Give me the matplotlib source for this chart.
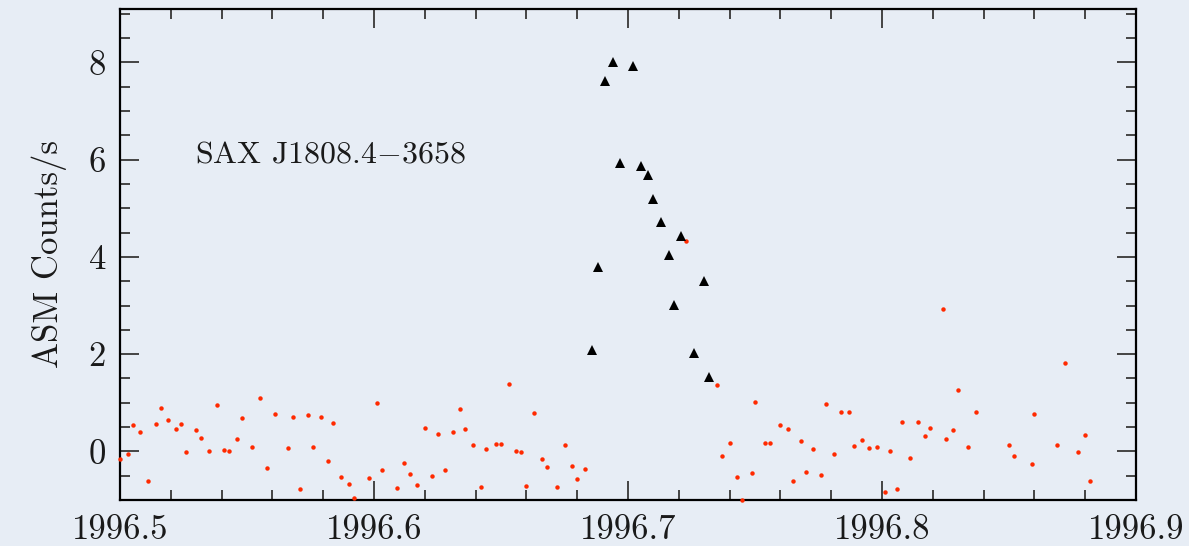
import matplotlib
matplotlib.use("Agg")
import matplotlib.pyplot as plt
from matplotlib.ticker import MultipleLocator

# ASM light curve, quiet points (red dots)
t_asm = [1996.500, 1996.503, 1996.505, 1996.508, 1996.511, 1996.514, 1996.516, 1996.519,
         1996.522, 1996.524, 1996.526, 1996.530, 1996.532, 1996.535, 1996.538, 1996.541,
         1996.543, 1996.546, 1996.548, 1996.552, 1996.555, 1996.558, 1996.561, 1996.566,
         1996.568, 1996.571, 1996.574, 1996.576, 1996.579, 1996.582, 1996.584, 1996.587,
         1996.590, 1996.592, 1996.598, 1996.601, 1996.603, 1996.609, 1996.612, 1996.614,
         1996.617, 1996.620, 1996.623, 1996.625, 1996.628, 1996.631, 1996.634, 1996.636,
         1996.639, 1996.642, 1996.644, 1996.648, 1996.650, 1996.653, 1996.656, 1996.658,
         1996.660, 1996.663, 1996.666, 1996.668, 1996.672, 1996.675, 1996.678, 1996.680,
         1996.683, 1996.723, 1996.735, 1996.737, 1996.740, 1996.743, 1996.745, 1996.749,
         1996.750, 1996.754, 1996.756, 1996.760, 1996.763, 1996.765, 1996.768, 1996.770,
         1996.773, 1996.776, 1996.778, 1996.781, 1996.784, 1996.787, 1996.789, 1996.792,
         1996.795, 1996.798, 1996.801, 1996.803, 1996.806, 1996.808, 1996.811, 1996.814,
         1996.817, 1996.819, 1996.824, 1996.825, 1996.828, 1996.830, 1996.834, 1996.837,
         1996.850, 1996.852, 1996.859, 1996.860, 1996.869, 1996.872, 1996.877, 1996.880,
         1996.882]
r_asm = [-0.15, -0.06, 0.55, 0.40, -0.60, 0.57, 0.90, 0.64,
         0.47, 0.57, -0.01, 0.45, 0.27, 0.01, 0.96, 0.03,
         0.01, 0.26, 0.68, 0.10, 1.10, -0.35, 0.77, 0.07,
         0.70, -0.77, 0.74, 0.10, 0.70, -0.19, 0.59, -0.53,
         -0.68, -0.96, -0.55, 1.00, -0.38, -0.75, -0.24, -0.46,
         -0.70, 0.48, -0.51, 0.36, -0.39, 0.40, 0.88, 0.47,
         0.14, -0.73, 0.05, 0.16, 0.16, 1.39, 0.01, -0.02,
         -0.71, 0.78, -0.15, -0.33, -0.74, 0.13, -0.31, -0.57,
         -0.36, 4.32, 1.36, -0.10, 0.18, -0.53, -1.00, -0.44,
         1.01, 0.18, 0.18, 0.54, 0.47, -0.61, 0.22, -0.42,
         0.04, -0.49, 0.98, -0.06, 0.81, 0.82, 0.12, 0.23,
         0.06, 0.08, -0.84, 0.01, -0.78, 0.61, -0.14, 0.61,
         0.31, 0.49, 2.93, 0.26, 0.45, 1.27, 0.09, 0.80,
         0.14, -0.10, -0.25, 0.77, 0.14, 1.81, -0.01, 0.34,
         -0.61]

# outburst points (black triangles)
t_burst = [1996.686, 1996.688, 1996.691, 1996.694, 1996.697, 1996.702, 1996.705, 1996.708,
           1996.710, 1996.713, 1996.716, 1996.718, 1996.721, 1996.726, 1996.730, 1996.732]
r_burst = [2.09, 3.80, 7.62, 8.02, 5.94, 7.93, 5.87, 5.69,
           5.20, 4.72, 4.03, 3.01, 4.43, 2.03, 3.51, 1.53]

xticks = [1996.5, 1996.6, 1996.7, 1996.8, 1996.9]
xtick_labels = ["1996.5", "1996.6", "1996.7", "1996.8", "1996.9"]
yticks = [0, 2, 4, 6, 8]
ytick_labels = ["0", "2", "4", "6", "8"]
source_name = "SAX J1808.4$-$3658"

plt.rcParams["font.family"] = "cmr10"
plt.rcParams["mathtext.fontset"] = "cm"
plt.rcParams["axes.formatter.use_mathtext"] = True

bg = "#e7edf5"
fig = plt.figure(figsize=(11.89, 5.46), dpi=100, facecolor=bg)
ax = fig.add_axes([120 / 1189, 46 / 546, 1016 / 1189, 491 / 546])
ax.set_facecolor(bg)

ax.plot(t_asm, r_asm, "o", color="#ff2a00", ms=3.2, mew=0, clip_on=False, zorder=3)
ax.plot(t_burst, r_burst, "^", color="black", ms=7.5, mew=0, zorder=4)

ax.set_xlim(1996.5, 1996.9)
ax.set_ylim(-1, 9.1)
ax.set_xticks(xticks)
ax.set_xticklabels(xtick_labels)
ax.set_yticks(yticks)
ax.set_yticklabels(ytick_labels)
ax.xaxis.set_minor_locator(MultipleLocator(0.02))
ax.yaxis.set_minor_locator(MultipleLocator(0.5))

ax.tick_params(which="both", direction="in", top=True, right=True, color="#444444",
               width=1.4, labelsize=25, labelcolor="#1a1a1a")
ax.tick_params(which="major", length=14, pad=10)
ax.tick_params(which="minor", length=7)
for s in ax.spines.values():
    s.set_linewidth(1.6)
    s.set_color("black")

ax.set_ylabel("ASM Counts/s", fontsize=25, color="#1a1a1a", labelpad=16)
ax.text(1996.5295, 6.1, source_name, fontsize=23, color="#1a1a1a", va="center", ha="left")

fig.savefig("out.png", dpi=100, facecolor=bg)
